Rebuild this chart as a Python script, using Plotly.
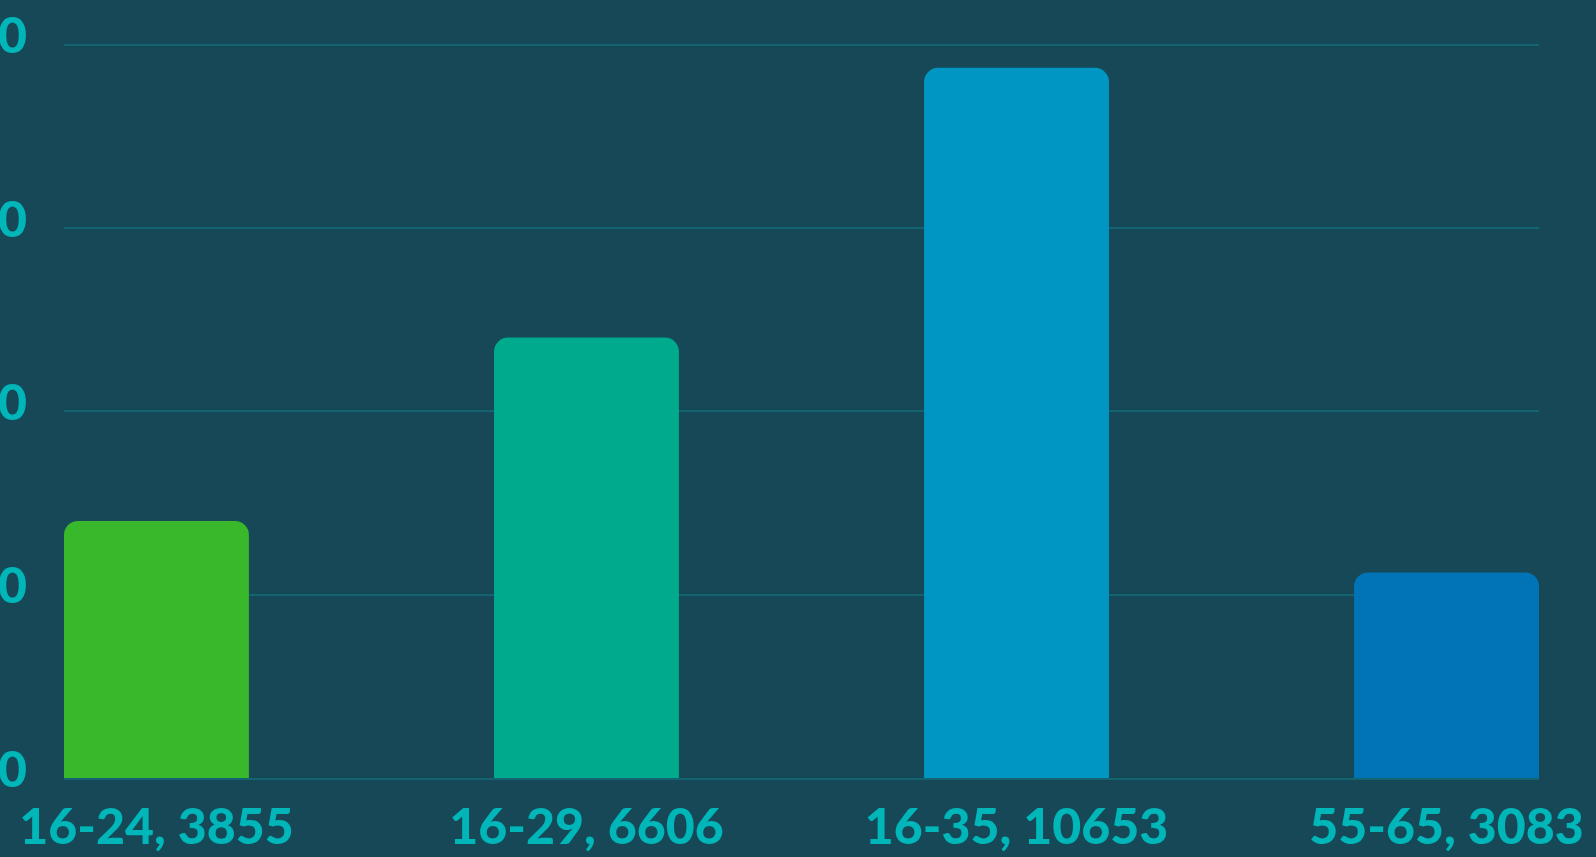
import plotly.graph_objects as go

categories = ["16-24, 3855", "16-29, 6606", "16-35, 10653", "55-65, 3083"]
values = [3855, 6606, 10653, 3083]
bar_colors = ["#38B82A", "#00AA8C", "#0096C3", "#0074B7"]
y_ticks = [0, 2750, 5500, 8250, 11000]

BG = "#164858"
TXT = "#00B6B8"
GRID = "#126570"

fig = go.Figure(
    go.Bar(
        x=list(range(len(categories))),
        y=values,
        marker=dict(color=bar_colors, line=dict(width=0), cornerradius=14),
        width=0.43,
        hoverinfo="skip",
    )
)

font = dict(family="Lato", size=50, color=TXT, weight=900)

fig.update_layout(
    width=1596,
    height=857,
    margin=dict(l=64, r=57, t=38, b=79),
    paper_bgcolor=BG,
    plot_bgcolor=BG,
    showlegend=False,
    font=font,
)
fig.update_xaxes(
    range=[-0.215, 3.215],
    tickvals=list(range(len(categories))),
    ticktext=categories,
    tickfont=font,
    showgrid=False,
    zeroline=False,
    showline=True,
    linecolor=GRID,
    linewidth=2,
    layer="above traces",
    ticks="",
    automargin=False,
    ticklabelstandoff=4,
)
fig.update_yaxes(
    range=[0, 11100],
    tickvals=y_ticks,
    ticktext=[str(v) for v in y_ticks],
    tickfont=font,
    showgrid=True,
    gridcolor=GRID,
    gridwidth=1.5,
    zeroline=False,
    ticks="",
    automargin=False,
    ticklabelstandoff=36,
    ticklabelshift=-9,
)

fig.write_html(
    "out.html",
    config={"displayModeBar": False},
    post_script="document.body.style.margin='0';document.body.style.overflow='hidden';",
)
